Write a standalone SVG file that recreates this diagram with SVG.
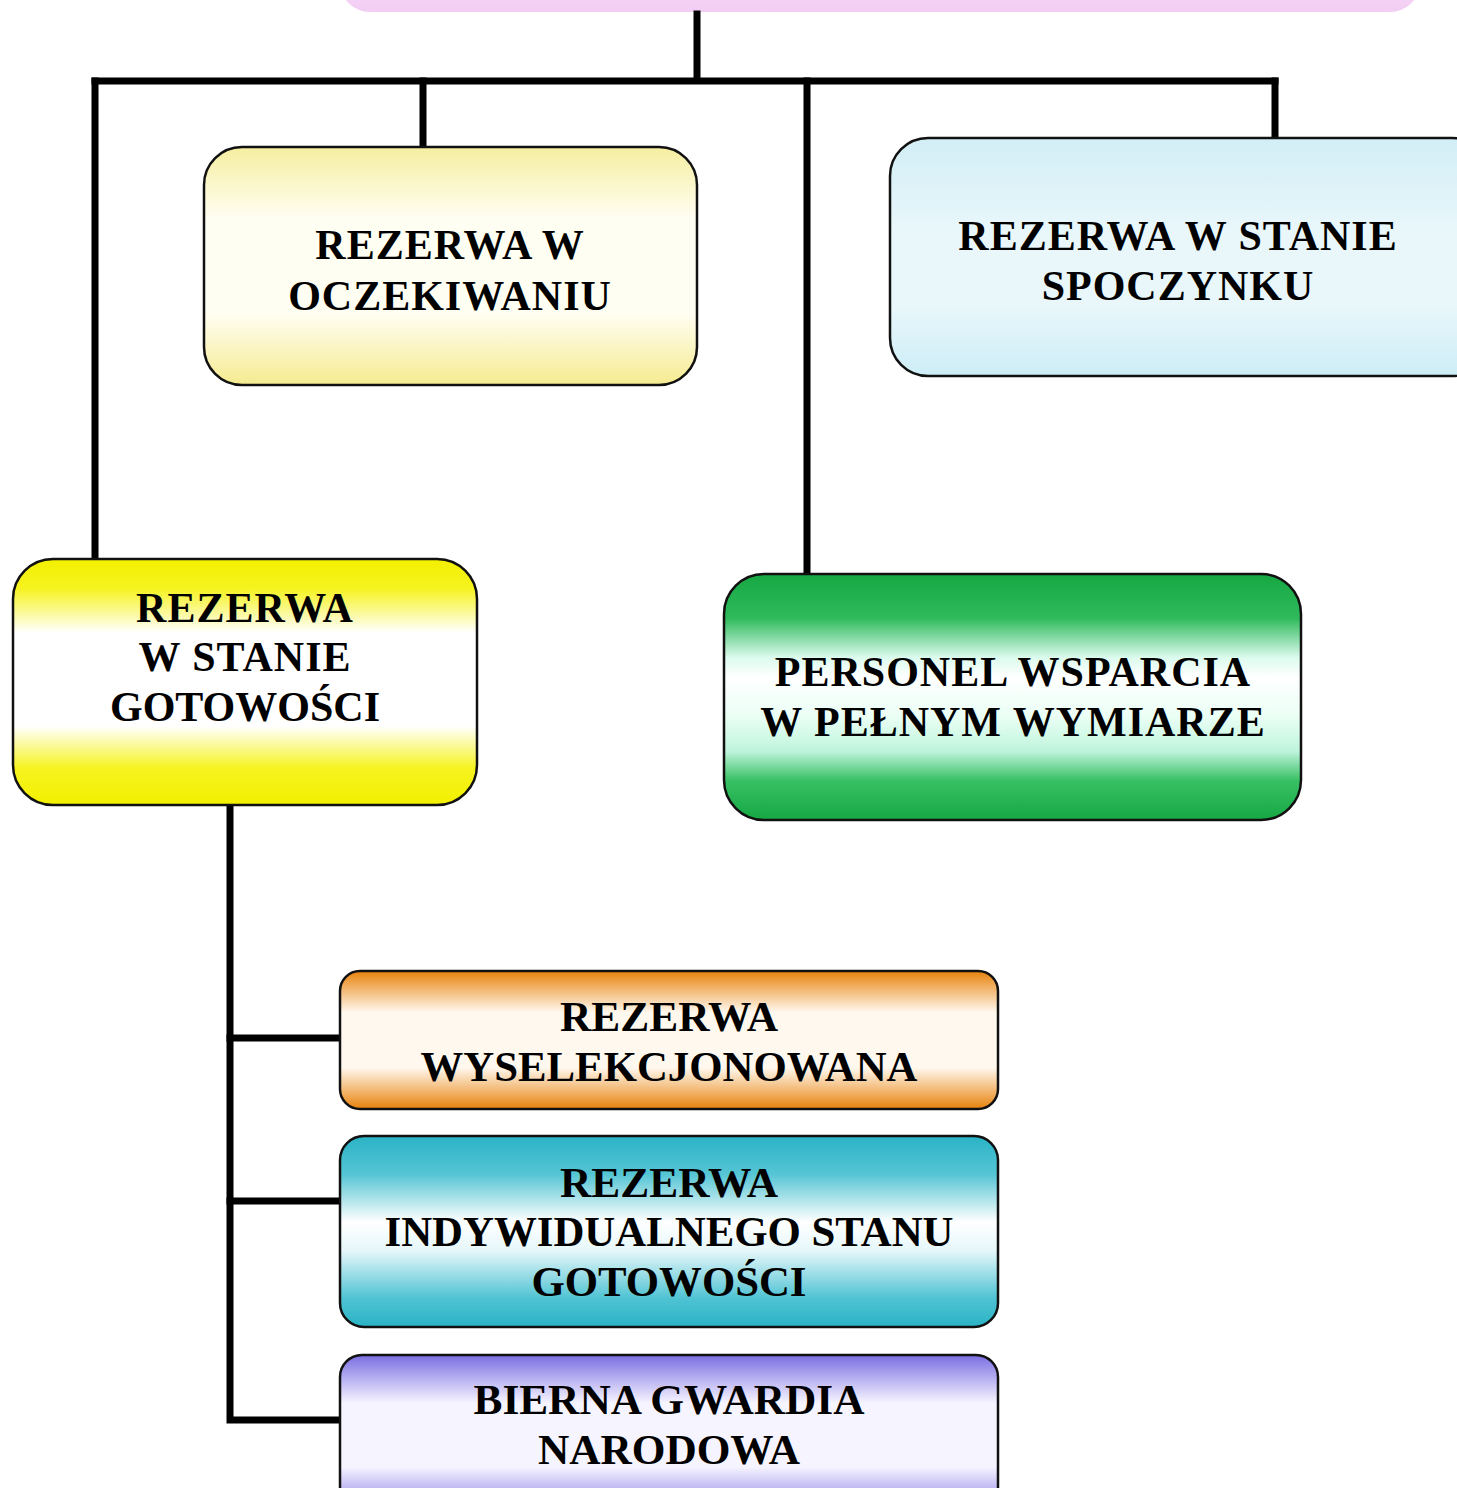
<svg xmlns="http://www.w3.org/2000/svg" width="1457" height="1488" viewBox="0 0 1457 1488">
<defs>
<linearGradient id="gPink" x1="0" y1="0" x2="0" y2="1"><stop offset="0" stop-color="#ffffff"/><stop offset="0.6" stop-color="#f6d6f6"/><stop offset="1" stop-color="#f2cdf4"/></linearGradient>
<linearGradient id="gLY" x1="0" y1="0" x2="0" y2="1"><stop offset="0" stop-color="#f6eea0"/><stop offset="0.3" stop-color="#fffef2"/><stop offset="0.7" stop-color="#fffef2"/><stop offset="1" stop-color="#f6eb90"/></linearGradient>
<linearGradient id="gLB" x1="0" y1="0" x2="0" y2="1"><stop offset="0" stop-color="#d2eef6"/><stop offset="0.4" stop-color="#e9f7fb"/><stop offset="0.7" stop-color="#e9f7fb"/><stop offset="1" stop-color="#cdedf6"/></linearGradient>
<linearGradient id="gY" x1="0" y1="0" x2="0" y2="1"><stop offset="0" stop-color="#f3f000"/><stop offset="0.12" stop-color="#f6f320"/><stop offset="0.3" stop-color="#ffffff"/><stop offset="0.68" stop-color="#ffffff"/><stop offset="0.85" stop-color="#f6f320"/><stop offset="1" stop-color="#f3f000"/></linearGradient>
<linearGradient id="gG" x1="0" y1="0" x2="0" y2="1"><stop offset="0" stop-color="#16a843"/><stop offset="0.18" stop-color="#2fba5c"/><stop offset="0.34" stop-color="#dcfbee"/><stop offset="0.42" stop-color="#ffffff"/><stop offset="0.58" stop-color="#eafff5"/><stop offset="0.72" stop-color="#bff4dc"/><stop offset="0.84" stop-color="#38c064"/><stop offset="1" stop-color="#16a843"/></linearGradient>
<linearGradient id="gO" x1="0" y1="0" x2="0" y2="1"><stop offset="0" stop-color="#e8820c"/><stop offset="0.3" stop-color="#fff8ee"/><stop offset="0.7" stop-color="#fff8ee"/><stop offset="1" stop-color="#e8820c"/></linearGradient>
<linearGradient id="gC" x1="0" y1="0" x2="0" y2="1"><stop offset="0" stop-color="#2ab3c6"/><stop offset="0.2" stop-color="#55c5d4"/><stop offset="0.45" stop-color="#ffffff"/><stop offset="0.6" stop-color="#e6f7fa"/><stop offset="0.85" stop-color="#4fc3d3"/><stop offset="1" stop-color="#2ab3c6"/></linearGradient>
<linearGradient id="gP" x1="0" y1="0" x2="0" y2="1"><stop offset="0" stop-color="#7a6ee2"/><stop offset="0.3" stop-color="#f6f4ff"/><stop offset="0.7" stop-color="#f6f4ff"/><stop offset="1" stop-color="#7a6ee2"/></linearGradient>
</defs>
<style>
.box{stroke:#111;stroke-width:2.5}
.t{font-family:"Liberation Serif","Times New Roman",serif;font-weight:bold;font-size:42px;fill:#000;text-anchor:middle}
.s{letter-spacing:1px}
.c{stroke:#000;stroke-width:7;fill:none;stroke-linecap:square}
</style>
<rect width="1457" height="1488" fill="#ffffff"/>
<g id="top"><rect x="340" y="-60" width="1080" height="72" rx="30" fill="url(#gPink)"/></g>
<g id="connectors">
<path class="c" d="M697 14 V80"/>
<path class="c" d="M95 81 H1275"/>
<path class="c" d="M95 81 V557"/>
<path class="c" d="M423 81 V146"/>
<path class="c" d="M807 81 V573"/>
<path class="c" d="M1275 81 V137"/>
<path class="c" d="M230 806 V1420 H338"/>
<path class="c" d="M230 1038 H338"/>
<path class="c" d="M230 1201 H338"/>
</g>
<g id="n1"><rect class="box" x="204" y="147" width="493" height="238" rx="38" fill="url(#gLY)"/>
<text class="t s" x="450" y="259">REZERWA W</text><text class="t s" x="450" y="310">OCZEKIWANIU</text></g>
<g id="n2"><rect class="box" x="890" y="138" width="600" height="238" rx="38" fill="url(#gLB)"/>
<text class="t s" x="1178" y="250">REZERWA W STANIE</text><text class="t s" x="1178" y="300">SPOCZYNKU</text></g>
<g id="n3"><rect class="box" x="13" y="559" width="464" height="246" rx="40" fill="url(#gY)"/>
<text class="t s" x="245" y="622">REZERWA</text><text class="t s" x="245" y="671">W STANIE</text><text class="t" x="245" y="721">GOTOWOŚCI</text></g>
<g id="n4"><rect class="box" x="724" y="574" width="577" height="246" rx="40" fill="url(#gG)"/>
<text class="t s" x="1013" y="686">PERSONEL WSPARCIA</text><text class="t s" x="1013" y="736">W PEŁNYM WYMIARZE</text></g>
<g id="n5"><rect class="box" x="340" y="971" width="658" height="138" rx="20" fill="url(#gO)"/>
<text class="t" x="669" y="1031" textLength="218" lengthAdjust="spacingAndGlyphs">REZERWA</text><text class="t" x="669" y="1081" textLength="497" lengthAdjust="spacingAndGlyphs">WYSELEKCJONOWANA</text></g>
<g id="n6"><rect class="box" x="340" y="1136" width="658" height="191" rx="24" fill="url(#gC)"/>
<text class="t" x="669" y="1197" textLength="218" lengthAdjust="spacingAndGlyphs">REZERWA</text><text class="t" x="669" y="1246" textLength="569" lengthAdjust="spacingAndGlyphs">INDYWIDUALNEGO STANU</text><text class="t" x="669" y="1296" textLength="275" lengthAdjust="spacingAndGlyphs">GOTOWOŚCI</text></g>
<g id="n7"><rect class="box" x="340" y="1355" width="658" height="160" rx="22" fill="url(#gP)"/>
<text class="t" x="669" y="1414" textLength="391" lengthAdjust="spacingAndGlyphs">BIERNA GWARDIA</text><text class="t" x="669" y="1464" textLength="262" lengthAdjust="spacingAndGlyphs">NARODOWA</text></g>
</svg>
